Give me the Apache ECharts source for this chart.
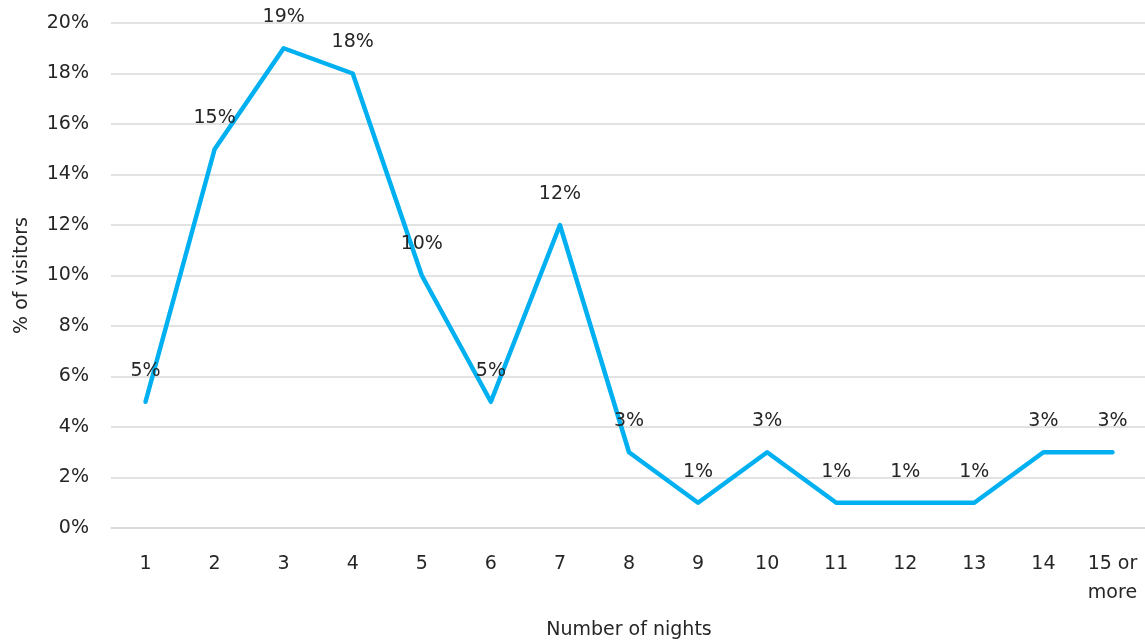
<!DOCTYPE html>
<html>
<head>
<meta charset="utf-8">
<script src="https://cdn.jsdelivr.net/npm/echarts@6/dist/echarts.min.js"></script>
<style>
  html, body { margin: 0; padding: 0; background: #fff; }
  #chart { width: 1145px; height: 641px; }
</style>
</head>
<body>
<div id="chart"></div>
<script>
  // nights stayed -> share of visitors (%)
  var nights = ['1', '2', '3', '4', '5', '6', '7', '8', '9', '10', '11', '12', '13', '14', '15 or\nmore'];
  var visitors = [5, 15, 19, 18, 10, 5, 12, 3, 1, 3, 1, 1, 1, 3, 3];

  var font = 'DejaVu Sans';
  var textColor = '#262626';

  var chart = echarts.init(document.getElementById('chart'));
  chart.setOption({
    animation: false,
    textStyle: { fontFamily: font },
    grid: { left: 111, width: 1036, top: 23, bottom: 113, containLabel: false, outerBoundsMode: 'none' },
    xAxis: {
      type: 'category',
      data: nights,
      boundaryGap: true,
      name: 'Number of nights',
      nameLocation: 'middle',
      nameGap: 93,
      nameTextStyle: { fontFamily: font, fontSize: 19, color: textColor },
      axisLine: { show: true, lineStyle: { color: '#d9d9d9', width: 1.5 } },
      axisTick: { show: false },
      axisLabel: { fontFamily: font, fontSize: 19, color: textColor, margin: 22, lineHeight: 29, interval: 0, align: 'center' }
    },
    yAxis: {
      type: 'value',
      min: 0,
      max: 20,
      interval: 2,
      name: '% of visitors',
      nameLocation: 'middle',
      nameGap: 79,
      nameRotate: 90,
      nameTextStyle: { fontFamily: font, fontSize: 19, color: textColor },
      axisLine: { show: false },
      axisTick: { show: false },
      axisLabel: { fontFamily: font, fontSize: 19, color: textColor, margin: 22, formatter: '{value}%' },
      splitLine: { lineStyle: { color: '#d9d9d9', width: 1.5 } }
    },
    series: [{
      type: 'line',
      data: visitors,
      symbol: 'circle',
      symbolSize: 3,
      showSymbol: true,
      showAllSymbol: true,
      lineStyle: { color: '#00b0f0', width: 4.5, cap: 'round', join: 'round' },
      itemStyle: { color: '#00b0f0' },
      label: {
        show: true,
        position: 'top',
        distance: 20,
        fontFamily: font,
        fontSize: 19,
        color: textColor,
        formatter: '{c}%'
      }
    }]
  });
</script>
</body>
</html>
